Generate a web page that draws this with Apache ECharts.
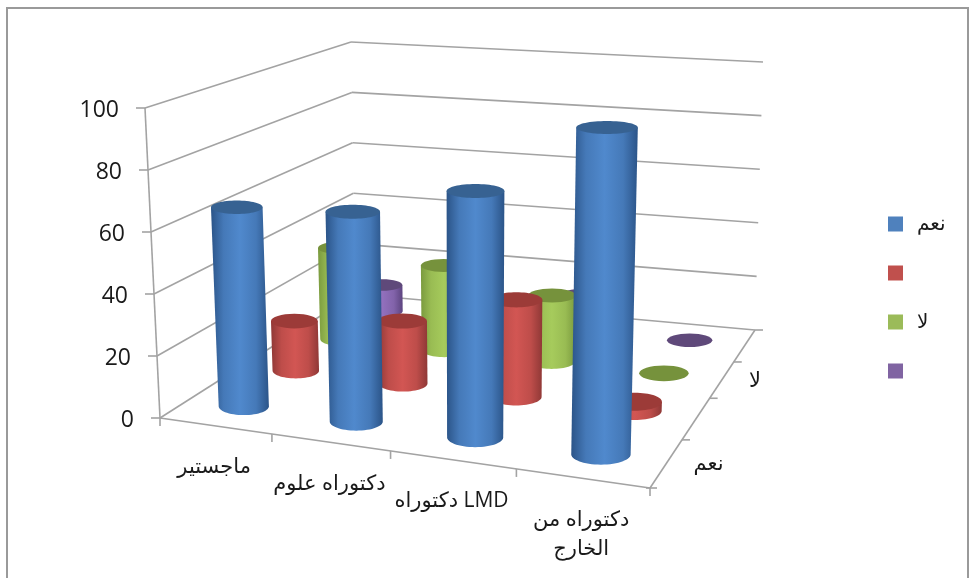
<!DOCTYPE html>
<html>
<head>
<meta charset="utf-8">
<style>html,body{margin:0;padding:0;background:#fff}#c{width:970px;height:578px}</style>
<script src="https://cdn.jsdelivr.net/npm/echarts@6/dist/echarts.min.js"></script>
</head>
<body>
<div id="c"></div>
<script>
// Chart data
const categories = ['ماجستير', 'دكتوراه علوم', 'دكتوراه LMD', 'دكتوراه من\nالخارج'];
const depthLabels = ['نعم', '', 'لا', ''];
const valueTicks = [0, 20, 40, 60, 80, 100];
const seriesNames = ['نعم', ' ', 'لا', '  '];
const blueValues = [65, 67, 77, 100];
const redValues = [17, 21, 32, 3];
const greenValues = [33, 30, 23, 0];
const purpleValues = [10, 6, 13, 0];

// Shades per series: side edge, side centre, cap, legend swatch
const palette = [
  { edge: '#2b5488', mid: '#5089cd', cap: '#376292', key: '#4f81bd' },
  { edge: '#8f3836', mid: '#d25653', cap: '#9c3b38', key: '#c0504d' },
  { edge: '#7a9a3e', mid: '#a6cb5c', cap: '#76923c', key: '#9bbb59' },
  { edge: '#5c447f', mid: '#9270bd', cap: '#5f497a', key: '#8064a2' }
];

// Perspective box: floor corners (front-left, front-right, back-right, back-left),
// then the lean and the height of the 100 level at those same corners
const floorBox = [[160, 418], [650, 488], [755, 330], [355, 294]];
const leanAtCorner = [-15, 9, 8, -4];
const heightAtCorner = [310, 339, 268, 252];
const PLANE = 400;          // size of the hidden cartesian plane
const RADIUS = 0.056;       // cylinder radius as a share of the floor width
const SPREAD = 0.05;        // evens out the foreshortening along the category direction

function quadMap(q) {
  const [p0, p1, p2, p3] = q;
  const dx1 = p1[0] - p2[0], dx2 = p3[0] - p2[0], sx = p0[0] - p1[0] + p2[0] - p3[0];
  const dy1 = p1[1] - p2[1], dy2 = p3[1] - p2[1], sy = p0[1] - p1[1] + p2[1] - p3[1];
  const det = dx1 * dy2 - dx2 * dy1;
  const g = (sx * dy2 - dx2 * sy) / det, h = (dx1 * sy - sx * dy1) / det;
  const a = p1[0] - p0[0] + g * p1[0], b = p3[0] - p0[0] + h * p3[0];
  const d = p1[1] - p0[1] + g * p1[1], e = p3[1] - p0[1] + h * p3[1];
  return (u, v) => {
    const w = g * u + h * v + 1;
    return [(a * u + b * v + p0[0]) / w, (d * u + e * v + p0[1]) / w];
  };
}
const floorMap = quadMap(floorBox);
function bilinear(c, u, v) {
  return c[0] * (1 - u) * (1 - v) + c[1] * u * (1 - v) + c[2] * u * v + c[3] * (1 - u) * v;
}
function project(u, v, h) {
  const f = floorMap(u + SPREAD * u * (1 - u), v);
  return [f[0] + bilinear(leanAtCorner, u, v) * h, f[1] - bilinear(heightAtCorner, u, v) * h];
}
const planeU = p => p[0] / PLANE;
const planeH = p => 1 - p[1] / PLANE;

const LINE = '#a3a3a3';
const line = (a, b, w) => ({
  type: 'line',
  shape: { x1: a[0], y1: a[1], x2: b[0], y2: b[1] },
  style: { stroke: LINE, lineWidth: w || 1.6 }
});
const label = (text, x, y, size, align, vAlign) => ({
  type: 'text',
  style: {
    text, x, y, fill: '#1a1a1a', align: align, verticalAlign: vAlign, lineHeight: 29,
    font: size + 'px "Open Sans","DejaVu Sans",sans-serif'
  }
});

// Walls, floor, ticks and axis labels, all placed through the projection
function renderFrame(params, api) {
  const kids = [];
  valueTicks.forEach(t => {
    const h = planeH(api.coord([0, t]));
    const a = project(0, 0, h), d = project(0, 1, h), c = project(1, 1, h);
    kids.push(line(a, d), line(d, c));
    kids.push(line([a[0] - 9, a[1]], a));
    kids.push(label(String(t), a[0] - 26, a[1] + 2, 23, 'right', 'middle'));
  });
  kids.push(line(project(0, 0, 0), project(0, 0, 1)));
  const a = project(0, 0, 0), b = project(1, 0, 0), c = project(1, 1, 0);
  kids.push(line(a, b), line(b, c));
  for (let i = 0; i <= categories.length; i++) {
    const p = project(i / categories.length, 0, 0);
    kids.push(line(p, [p[0], p[1] + 8]));
  }
  kids.push(line([b[0] - 4, b[1]], [b[0] + 7, b[1]]));
  for (let i = 1; i <= depthLabels.length; i++) {
    const p = project(1, i / depthLabels.length, 0);
    kids.push(line(p, [p[0] + 8, p[1]]));
  }
  categories.forEach((name, i) => {
    const p = project(planeU(api.coord([i, 0])), 0, 0);
    kids.push(label(name, p[0] - 1, p[1] + 27, 21, 'center', 'top'));
  });
  depthLabels.forEach((name, i) => {
    if (!name) return;
    const p = project(1, (i + 0.5) / depthLabels.length, 0);
    kids.push(label(name, p[0] + 27, p[1] + 1, 21, 'left', 'middle'));
  });
  return { type: 'group', children: kids };
}

function ellipseAt(u, v, h) {
  const c = project(u, v, h);
  const radius = RADIUS * (1.03 - 0.12 * v);
  const l = project(u - radius, v, h), r = project(u + radius, v, h);
  const rx = Math.hypot(r[0] - l[0], r[1] - l[1]) / 2;
  const ratio = 0.29 - 0.08 * h + 0.07 * (1 - v) * (1 - h);
  return { c, rx, ry: rx * ratio };
}

// One cylinder: value read through the value axis, position through the category axis
function cylinderRenderer(slot) {
  const v = (slot + 0.5) / depthLabels.length;
  const tone = palette[slot];
  const shade = echarts.color.lerp(0.7, [tone.edge, tone.mid]);
  return function (params, api) {
    const base = api.coord([api.value(0), 0]);
    const peak = api.coord([api.value(0), api.value(1)]);
    const u = planeU(base), h = planeH(peak);
    const top = ellipseAt(u, v, h), bot = ellipseAt(u, v, 0);
    const kids = [];
    if (h > 0) {
      const pts = [[top.c[0] - top.rx, top.c[1]]];
      for (let a = 180; a >= 0; a -= 6) {
        const t = a * Math.PI / 180;
        pts.push([bot.c[0] + bot.rx * Math.cos(t), bot.c[1] + bot.ry * Math.sin(t)]);
      }
      pts.push([top.c[0] + top.rx, top.c[1]]);
      kids.push({
        type: 'polygon',
        shape: { points: pts },
        style: {
          fill: new echarts.graphic.LinearGradient(0, 0, 1, 0, [
            { offset: 0, color: tone.edge },
            { offset: 0.22, color: shade },
            { offset: 0.5, color: tone.mid },
            { offset: 0.78, color: shade },
            { offset: 1, color: tone.edge }
          ])
        }
      });
    }
    kids.push({
      type: 'ellipse',
      shape: { cx: top.c[0], cy: top.c[1], rx: top.rx, ry: top.ry },
      style: { fill: tone.cap }
    });
    return { type: 'group', children: kids };
  };
}

const valueSets = [blueValues, redValues, greenValues, purpleValues];
const cylinderSeries = valueSets.map((vals, slot) => ({
  type: 'custom',
  name: seriesNames[slot],
  z: 10 - slot,
  silent: true,
  renderItem: cylinderRenderer(slot),
  encode: { x: 0, y: 1 },
  itemStyle: { color: palette[slot].key },
  data: vals.map((val, i) => [i, val])
}));

const chart = echarts.init(document.getElementById('c'), null, { renderer: 'canvas' });
chart.setOption({
  animation: false,
  backgroundColor: '#ffffff',
  textStyle: { fontFamily: '"Open Sans","DejaVu Sans",sans-serif' },
  grid: { left: 0, top: 0, width: PLANE, height: PLANE, containLabel: false },
  xAxis: { type: 'category', data: categories, show: false },
  yAxis: { type: 'value', min: 0, max: 100, interval: 20, show: false },
  legend: {
    orient: 'vertical', left: 883, top: 209, itemWidth: 15, itemHeight: 15, itemGap: 29,
    selectedMode: false,
    textStyle: { fontSize: 20, color: '#1a1a1a', padding: [0, 0, 0, 9] },
    data: seriesNames.map((name, i) => ({ name, icon: 'rect', itemStyle: { color: palette[i].key } }))
  },
  graphic: [{
    type: 'rect', silent: true, z: 0,
    shape: { x: 7, y: 8, width: 961, height: 600 },
    style: { fill: 'none', stroke: '#9a9a9a', lineWidth: 2 }
  }],
  series: [{
    type: 'custom', silent: true, z: 1, renderItem: renderFrame,
    encode: { x: 0, y: 1 }, data: [[0, 0]]
  }].concat(cylinderSeries)
});
</script>
</body>
</html>
